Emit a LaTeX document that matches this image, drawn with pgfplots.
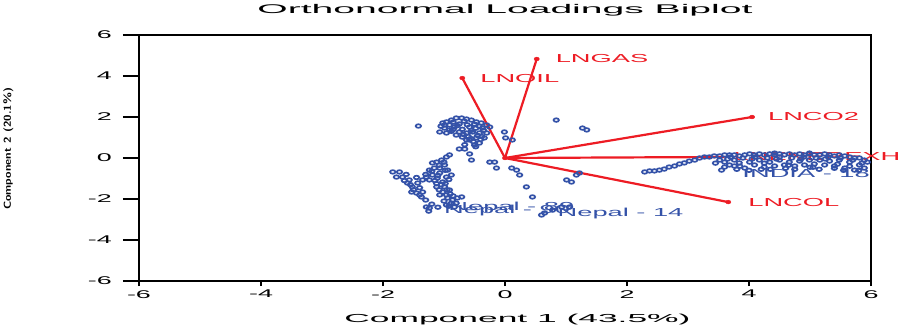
\documentclass[border=0pt]{standalone}
\usepackage{fontspec}
\usepackage{pgfplots}
\pgfplotsset{compat=1.18}
\usepackage{pgfplotstable}
\newfontfamily\titlefont[FakeStretch=3.1]{Liberation Sans}
\newfontfamily\labfont[FakeStretch=3.05]{Liberation Sans}
\newfontfamily\lblfont[FakeStretch=2.35]{Liberation Sans}
\newfontfamily\tickfont[FakeStretch=2.4]{Liberation Sans}
\definecolor{ptblue}{RGB}{52,82,168}
\definecolor{vecred}{RGB}{237,28,36}

\pgfplotstableread{
x y
-1.42 1.56
-1.02 1.71
-0.96 1.76
-0.88 1.85
-0.80 1.95
-0.71 1.95
-0.63 1.90
-0.55 1.85
-0.47 1.76
-0.39 1.71
-0.30 1.61
-0.25 1.51
-0.99 1.46
-0.91 1.37
-0.83 1.51
-0.96 1.22
-1.07 1.27
-0.75 1.27
-0.63 1.22
-0.53 1.27
-0.42 1.22
-0.30 1.22
-0.70 1.02
-0.58 0.88
-0.47 0.98
-0.42 0.73
-0.50 0.63
-0.63 0.88
-0.66 0.44
-0.75 0.44
-0.58 0.20
-0.55 -0.10
-0.01 1.27
0.01 0.98
0.12 0.88
-0.25 -0.20
-0.17 -0.20
-0.14 -0.49
0.11 -0.49
0.19 -0.59
0.24 -0.83
0.35 -1.41
0.45 -1.90
0.84 1.85
1.27 1.46
1.34 1.37
1.01 -1.07
1.09 -1.17
1.22 -0.73
1.17 -0.83
-0.91 1.61
-0.75 1.66
-0.58 1.51
-0.37 1.46
-0.80 1.12
-0.34 0.98
-0.99 1.61
-0.85 1.75
-0.67 1.80
-0.50 1.65
-0.42 1.55
-0.35 1.35
-0.88 1.30
-0.70 1.40
-0.55 1.35
-0.45 1.10
-0.60 1.05
-0.52 0.80
-0.40 0.90
-0.66 0.65
-1.05 1.55
-0.78 1.58
-0.62 1.62
-0.48 1.45
-0.85 1.40
-0.68 1.15
-0.38 1.05
-0.56 0.95
-0.48 0.55
-0.91 0.15
-0.96 0.05
-1.04 -0.10
-1.12 -0.20
-1.19 -0.24
-1.16 -0.49
-1.24 -0.59
-0.99 -0.34
-0.94 -0.59
-1.07 -0.73
-1.19 -0.83
-1.29 -0.93
-1.35 -1.07
-1.24 -1.07
-1.11 -0.98
-0.96 -0.93
-1.02 -1.17
-0.99 -1.41
-1.02 -1.66
-0.96 -1.80
-0.94 -1.95
-0.86 -2.05
-0.78 -1.95
-0.71 -1.90
-0.88 -2.20
-0.96 -2.29
-0.83 -2.39
-1.00 -0.20
-1.08 -0.35
-1.20 -0.65
-1.30 -0.80
-1.15 -1.10
-1.05 -1.30
-0.95 -1.55
-0.90 -1.75
-1.00 -2.10
-0.80 -2.20
-1.45 -0.95
-1.65 -1.10
-1.50 -1.55
-1.40 -1.80
-1.30 -2.05
-1.20 -2.25
-0.98 -0.60
-1.10 -0.85
-0.92 -1.05
-1.12 -1.25
-0.98 -1.25
-1.08 -1.55
-0.85 -1.85
-0.92 -2.35
-1.10 -2.40
-1.55 -1.30
-1.62 -0.80
-1.40 -1.45
-1.84 -0.68
-1.73 -0.68
-1.78 -0.93
-1.68 -0.93
-1.57 -1.07
-1.60 -1.22
-1.52 -1.41
-1.53 -1.66
-1.45 -1.71
-1.37 -1.90
-1.35 -1.66
-1.43 -1.22
-1.29 -2.39
-1.24 -2.44
-1.25 -2.59
0.60 -2.78
0.65 -2.68
0.78 -2.54
0.93 -2.39
1.06 -2.39
-1.07 -0.49
-0.88 -0.83
-1.12 -1.41
-0.91 -1.56
-1.07 -1.80
2.29 -0.68
2.37 -0.63
2.45 -0.63
2.53 -0.59
2.61 -0.54
2.69 -0.44
2.78 -0.39
2.86 -0.29
2.94 -0.24
3.02 -0.15
3.11 -0.10
3.19 0.00
3.27 0.05
3.35 0.05
3.43 0.10
3.52 0.10
3.60 0.15
3.68 0.15
3.76 0.15
3.84 0.10
3.93 0.15
4.01 0.20
4.09 0.15
4.17 0.20
4.25 0.15
4.34 0.20
4.42 0.15
4.50 0.20
4.58 0.15
4.66 0.20
4.75 0.15
4.83 0.20
4.91 0.15
4.99 0.20
5.07 0.15
5.16 0.15
5.24 0.20
5.32 0.15
5.40 0.10
5.48 0.15
5.57 0.10
5.65 0.05
5.73 0.00
5.81 0.00
5.89 -0.10
5.94 -0.20
3.52 -0.10
3.60 -0.20
3.68 -0.34
3.76 -0.10
3.84 -0.24
4.01 -0.20
4.17 -0.10
4.34 -0.20
4.50 -0.10
4.66 -0.20
4.83 -0.15
4.99 -0.10
5.16 -0.10
5.32 -0.15
5.48 -0.10
5.65 -0.20
5.81 -0.34
5.89 -0.49
5.73 -0.59
5.57 -0.49
5.40 -0.39
5.24 -0.34
5.07 -0.29
4.91 -0.34
4.75 -0.39
4.58 -0.34
4.42 -0.39
4.25 -0.44
4.09 -0.34
3.93 -0.49
3.76 -0.39
3.60 -0.44
3.55 -0.59
4.42 0.24
4.99 0.24
3.70 0.05
3.90 0.00
4.10 0.05
4.30 0.00
4.50 0.05
4.70 0.00
4.90 0.05
5.10 0.00
5.30 0.05
5.50 0.00
5.70 -0.10
3.80 -0.55
4.00 -0.60
4.20 -0.55
4.60 -0.50
5.00 -0.45
5.40 -0.50
5.80 -0.60
3.45 -0.25
3.65 -0.05
3.85 -0.40
4.05 -0.05
4.25 -0.25
4.45 -0.05
4.65 -0.35
4.85 -0.05
5.05 -0.45
5.25 -0.05
5.45 -0.30
5.65 -0.40
5.85 -0.25
4.35 -0.55
4.75 -0.55
5.15 -0.55
5.55 -0.60
}\scores

\begin{document}
\begin{tikzpicture}
\begin{axis}[
  scale only axis, width=732bp, height=246bp,
  xmin=-6, xmax=6, ymin=-6, ymax=6,
  xtick={-6,-4,-2,0,2,4,6}, ytick=\empty,
  xticklabels={-6,-4,-2,0,2,4,6},
  extra y ticks={-6,-4,-2,0,2,4,6},
  extra y tick labels={-6,-4,-2,0,2,4,6},
  extra y tick style={major tick length=16bp, tick style={line width=1.3bp, black},
    yticklabel style={font=\tickfont\fontsize{11.2bp}{12bp}\selectfont, inner sep=0pt, anchor=east, xshift=-11bp}},
  tick align=outside, tick pos=left,
  major tick length=5bp,
  axis line style={line width=1.4bp},
  tick style={line width=1.3bp, black},
  xticklabel style={font=\tickfont\fontsize{11.2bp}{12bp}\selectfont, inner sep=0pt, anchor=north, yshift=-4bp},
  clip=false,
]
% LNENEREXH vector (drawn first, partly hidden by the scores)
\addplot[draw=vecred, line width=2.2bp] coordinates {(0,0) (3.60,0.05)}
  node[anchor=west, inner sep=0pt, xshift=8bp, text=vecred, font=\lblfont\fontsize{11.6bp}{12bp}\selectfont] {LNENEREXH};
% scores
\addplot[only marks, mark=o, mark size=1.8bp, mark options={xscale=1.5, line width=1.7bp, draw=ptblue}] table[x=x, y=y] {\scores};
% other loading vectors
\addplot[draw=vecred, line width=2.2bp] coordinates {(0,0) (-0.70,3.90)}
  node[anchor=west, inner sep=0pt, xshift=17bp, text=vecred, font=\lblfont\fontsize{11.6bp}{12bp}\selectfont] {LNOIL};
\addplot[draw=vecred, line width=2.2bp] coordinates {(0,0) (0.52,4.83)}
  node[anchor=west, inner sep=0pt, xshift=18bp, text=vecred, font=\lblfont\fontsize{11.6bp}{12bp}\selectfont] {LNGAS};
\addplot[draw=vecred, line width=2.2bp] coordinates {(0,0) (4.05,2.00)}
  node[anchor=west, inner sep=0pt, xshift=15bp, text=vecred, font=\lblfont\fontsize{11.6bp}{12bp}\selectfont] {LNCO2};
\addplot[draw=vecred, line width=2.2bp] coordinates {(0,0) (3.66,-2.15)}
  node[anchor=west, inner sep=0pt, xshift=19bp, text=vecred, font=\lblfont\fontsize{11.6bp}{12bp}\selectfont] {LNCOL};
\addplot[only marks, mark=*, mark size=1.9bp, mark options={xscale=1.4, draw=vecred, fill=vecred}] coordinates {(-0.70,3.90) (0.52,4.83) (4.05,2.00) (3.66,-2.15) (0,0)};
% observation labels
\node[anchor=west, inner sep=0pt, text=ptblue, font=\lblfont\fontsize{11.6bp}{12bp}\selectfont] at (axis cs:3.89,-0.78) {INDIA - 18};
\node[anchor=west, inner sep=0pt, text=ptblue, font=\lblfont\fontsize{11.6bp}{12bp}\selectfont] at (axis cs:0.86,-2.73) {Nepal - 14};
\node[anchor=west, inner sep=0pt, text=ptblue, font=\lblfont\fontsize{11.6bp}{12bp}\selectfont] at (axis cs:-0.93,-2.42) {Nepal - 89};
\node[anchor=west, inner sep=0pt, text=ptblue, font=\lblfont\fontsize{11.6bp}{12bp}\selectfont] at (axis cs:-1.00,-2.58) {Nepal - 90};
% titles
\node[inner sep=0pt, font=\titlefont\fontsize{12.6bp}{13bp}\selectfont] at ([yshift=25bp]rel axis cs:0.5,1) {Orthonormal Loadings Biplot};
\node[anchor=base, inner sep=0pt, font=\labfont\fontsize{11.6bp}{12bp}\selectfont] at ([yshift=-41bp]rel axis cs:0.517,0) {Component 1 (43.5\%)};
\node[rotate=90, inner sep=0pt] at ([xshift=-130.5bp]rel axis cs:0,0.537) {\resizebox*{122bp}{10bp}{\sffamily\bfseries Component 2 (20.1\%)}};
\end{axis}
\pgfresetboundingbox
\path (-139bp,-48bp) rectangle (761bp,281bp);
\end{tikzpicture}
\end{document}
